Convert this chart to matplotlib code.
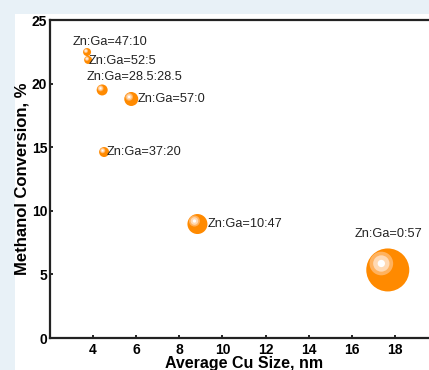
import matplotlib
matplotlib.use("Agg")
import matplotlib.pyplot as plt
from matplotlib import transforms
from matplotlib.patches import Rectangle

plt.rcParams['font.family'] = ['Liberation Sans', 'DejaVu Sans']

# data
labels = ['Zn:Ga=47:10', 'Zn:Ga=52:5', 'Zn:Ga=28.5:28.5', 'Zn:Ga=57:0',
          'Zn:Ga=37:20', 'Zn:Ga=10:47', 'Zn:Ga=0:57']
cu_size = [3.72, 3.77, 4.42, 5.77, 4.51, 8.84, 17.67]
conversion = [22.48, 21.86, 19.50, 18.79, 14.62, 8.96, 5.35]
radius_px = [4, 4, 5.5, 7, 5, 10, 21.5]
# label anchor (left edge, vertical centre)
label_x = [3.07, 3.81, 3.72, 6.05, 4.65, 9.30, 16.14]
label_y = [23.27, 21.78, 20.52, 18.79, 14.62, 8.96, 8.18]

xticks = [4, 6, 8, 10, 12, 14, 16, 18]
yticks = [0, 5, 10, 15, 20, 25]

fig = plt.figure(figsize=(4.29, 3.70), dpi=100)
fig.patch.set_facecolor('#e8f1f7')
fig.patches.append(Rectangle((15 / 429, 0), 1, 1 - 14 / 370, transform=fig.transFigure,
                             facecolor='white', edgecolor='none', zorder=-5))

ax = fig.add_axes([50 / 429, 32 / 370, 388 / 429, 318 / 370])
ax.set_facecolor('white')
ax.set_xlim(2, 20)
ax.set_ylim(0, 25)

pt = 0.72  # points per pixel at 100 dpi
for x, y, r in zip(cu_size, conversion, radius_px):
    d = 2 * r * pt
    ax.scatter([x], [y], s=d ** 2, color='#ff8a00', edgecolors='none', zorder=3)
    # glossy highlight, offset to the upper left
    off = transforms.offset_copy(ax.transData, fig=fig, x=-0.3 * r * pt, y=0.3 * r * pt, units='points')
    for frac, col in [(0.55, '#ffb25e'), (0.38, '#ffd9b3'), (0.17, '#ffffff')]:
        ax.scatter([x], [y], s=(d * frac) ** 2, color=col, edgecolors='none', zorder=4,
                   transform=off)

for t, x, y in zip(labels, label_x, label_y):
    ax.text(x, y, t, fontsize=9.2, ha='left', va='center', color='#222222', zorder=5)

ax.set_xticks(xticks)
ax.set_yticks(yticks)
ax.tick_params(direction='in', length=2.5, width=1.2, labelsize=10)
ax.tick_params(axis='x', pad=3.5)
ax.tick_params(axis='y', pad=2)
for lab in ax.get_xticklabels() + ax.get_yticklabels():
    lab.set_fontweight('bold')
for s in ax.spines.values():
    s.set_linewidth(1.6)
    s.set_color('#222222')

ax.set_xlabel('Average Cu Size, nm', fontsize=11.5, fontweight='bold')
ax.xaxis.set_label_coords(0.5, -0.058)
ax.set_ylabel('Methanol Conversion, %', fontsize=12, fontweight='bold')
ax.yaxis.set_label_coords(-0.052, 0.5)

fig.savefig('out.png', dpi=100, facecolor=fig.get_facecolor())
